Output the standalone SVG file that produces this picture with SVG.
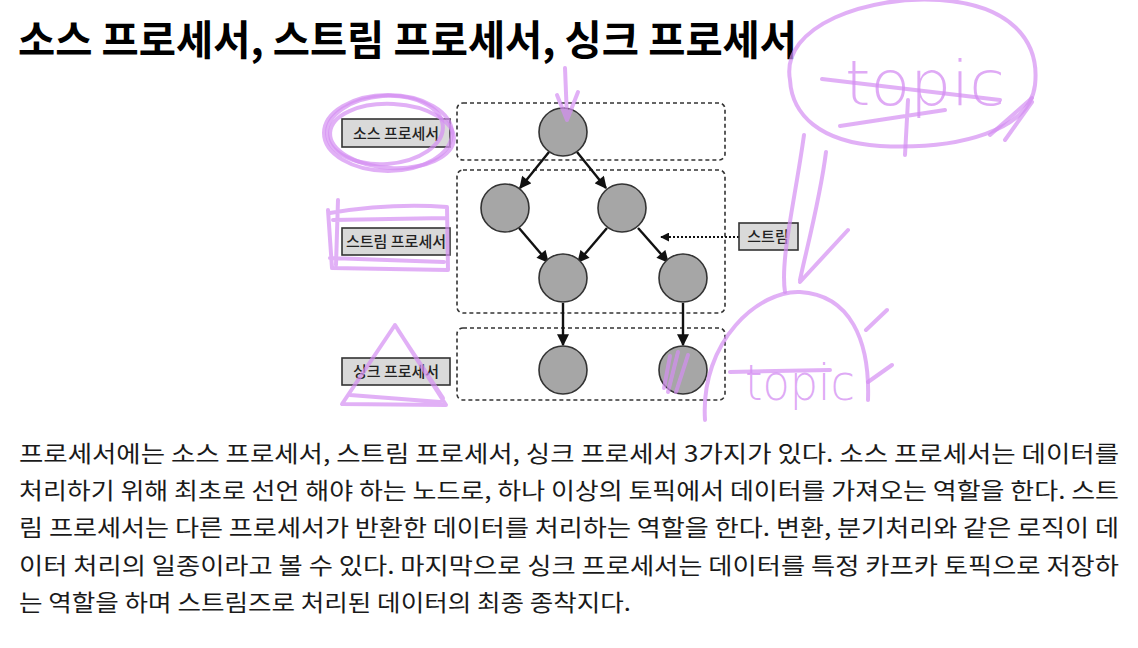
<svg xmlns="http://www.w3.org/2000/svg" width="1138" height="648" viewBox="0 0 1138 648">
<style>
.title{font-family:"Noto Sans CJK KR","Noto Sans",sans-serif;font-weight:bold;font-size:41px;fill:#000}
.body{font-family:"Noto Sans CJK KR","Noto Sans",sans-serif;font-size:23px;fill:#1a1a1a}
.lane{fill:none;stroke:#333;stroke-width:1.6;stroke-dasharray:4 3}
.node{fill:#a6a6a6;stroke:#333;stroke-width:1.6}
.lbl rect{fill:#d9d9d9;stroke:#333;stroke-width:1.6}
.lbl text{font-family:"Noto Sans CJK KR",sans-serif;font-size:15px;font-weight:500;fill:#222;text-anchor:middle}
.edge{stroke:#111;stroke-width:2.4;fill:none;marker-end:url(#ah)}
.dot{stroke:#111;stroke-width:1.8;fill:none;stroke-dasharray:2 2;marker-end:url(#ahs)}
.pen{fill:none;stroke:#d48ef2;stroke-opacity:0.7;stroke-width:4;stroke-linecap:round;stroke-linejoin:round}
.hand{font-family:"DejaVu Sans",sans-serif;font-weight:200;fill:#d48ef2;fill-opacity:0.75}
</style>
<defs>
<marker id="ah" viewBox="0 0 10 10" refX="9" refY="5" markerWidth="5.5" markerHeight="5" orient="auto"><path d="M0,0 L10,5 L0,10 z" fill="#111"/></marker>
<marker id="ahs" viewBox="0 0 10 10" refX="9" refY="5" markerWidth="5" markerHeight="5" orient="auto"><path d="M0,0 L10,5 L0,10 z" fill="#111"/></marker>
</defs>
<rect width="1138" height="648" fill="#fff"/>
<text class="title" x="18" y="55" textLength="779" lengthAdjust="spacingAndGlyphs">소스 프로세서, 스트림 프로세서, 싱크 프로세서</text>

<g id="lanes">
<rect id="lane-source" class="lane" x="457" y="103" width="268" height="57" rx="6"/>
<rect id="lane-stream" class="lane" x="457" y="170" width="268" height="143" rx="6"/>
<rect id="lane-sink" class="lane" x="457" y="328" width="268" height="72" rx="6"/>
</g>

<g id="connectors">
<line class="edge" x1="549" y1="152" x2="520" y2="188"/>
<line class="edge" x1="577" y1="152" x2="606" y2="188"/>
<line class="edge" x1="519" y1="228" x2="548" y2="262"/>
<line class="edge" x1="607" y1="228" x2="578" y2="262"/>
<line class="edge" x1="638" y1="228" x2="668" y2="262"/>
<line class="edge" x1="563" y1="303" x2="563" y2="345"/>
<line class="edge" x1="683" y1="303" x2="683" y2="345"/>
<line class="dot" x1="739" y1="237" x2="661" y2="237"/>
</g>

<g id="n1"><circle class="node" cx="563" cy="132" r="24"/></g>
<g id="n2"><circle class="node" cx="505" cy="208" r="24"/></g>
<g id="n3"><circle class="node" cx="622" cy="208" r="24"/></g>
<g id="n4"><circle class="node" cx="563" cy="278" r="24"/></g>
<g id="n5"><circle class="node" cx="683" cy="278" r="24"/></g>
<g id="n6"><circle class="node" cx="563" cy="370" r="24"/></g>
<g id="n7"><circle class="node" cx="683" cy="370" r="24"/></g>

<g id="label-source" class="lbl"><rect x="342" y="119" width="108" height="28"/><text x="396" y="139">소스 프로세서</text></g>
<g id="label-stream" class="lbl"><rect x="342" y="228" width="108" height="27"/><text x="396" y="247">스트림 프로세서</text></g>
<g id="label-sink" class="lbl"><rect x="342" y="358" width="108" height="27"/><text x="396" y="377">싱크 프로세서</text></g>
<g id="label-streamdata" class="lbl"><rect x="739" y="223" width="59" height="27"/><text x="768" y="242">스트림</text></g>

<g id="body">
<text class="body" x="19" y="462" textLength="1100" lengthAdjust="spacingAndGlyphs">프로세서에는 소스 프로세서, 스트림 프로세서, 싱크 프로세서 3가지가 있다. 소스 프로세서는 데이터를</text>
<text class="body" x="19" y="499" textLength="1100" lengthAdjust="spacingAndGlyphs">처리하기 위해 최초로 선언 해야 하는 노드로, 하나 이상의 토픽에서 데이터를 가져오는 역할을 한다. 스트</text>
<text class="body" x="19" y="536" textLength="1100" lengthAdjust="spacingAndGlyphs">림 프로세서는 다른 프로세서가 반환한 데이터를 처리하는 역할을 한다. 변환, 분기처리와 같은 로직이 데</text>
<text class="body" x="19" y="574" textLength="1100" lengthAdjust="spacingAndGlyphs">이터 처리의 일종이라고 볼 수 있다. 마지막으로 싱크 프로세서는 데이터를 특정 카프카 토픽으로 저장하</text>
<text class="body" x="19" y="611" textLength="612" lengthAdjust="spacingAndGlyphs">는 역할을 하며 스트림즈로 처리된 데이터의 최종 종착지다.</text>
</g>

<g id="annotations">
<ellipse class="pen" cx="388" cy="133" rx="64" ry="38"/>
<ellipse class="pen" cx="385" cy="130" rx="58" ry="34" transform="rotate(-4 385 130)"/>
<ellipse class="pen" cx="392" cy="136" rx="62" ry="32" transform="rotate(3 392 136)"/>
<path class="pen" d="M328,210 L332,268 L448,270 L447,207 Q390,203 330,213 M333,220 L446,218 M330,258 L444,262 M338,200 L336,265"/>
<path class="pen" d="M395,325 L342,404 L446,405 Z M398,330 L443,398 M350,395 L440,402"/>
<path class="pen" d="M565,68 L567,118 M557,95 L567,120 L578,92"/>
<path class="pen" d="M670,356 L664,388 M678,352 L668,392 M688,355 L676,392"/>
<path class="pen" d="M790,80 C780,25 870,-5 940,0 C1010,5 1040,40 1035,85 C1030,130 960,150 880,146 C820,142 792,115 790,80 Z"/>
<path class="pen" d="M840,126 L945,110 M822,79 L1000,100 M908,100 L905,155 M990,135 L1032,98 M1005,140 L1032,102"/>
<text class="hand" x="845" y="105" font-size="62" textLength="160" lengthAdjust="spacingAndGlyphs">topic</text>
<path class="pen" d="M804,135 C795,200 780,260 785,292 M826,152 C820,200 805,255 800,280 M848,230 L800,282"/>
<path class="pen" d="M705,420 C700,340 760,290 800,292 C850,295 870,340 868,400"/>
<path class="pen" d="M866,330 L887,310 M730,372 L830,370 M868,382 L892,365"/>
<text class="hand" x="745" y="400" font-size="50" textLength="110" lengthAdjust="spacingAndGlyphs">topic</text>
</g>
</svg>
